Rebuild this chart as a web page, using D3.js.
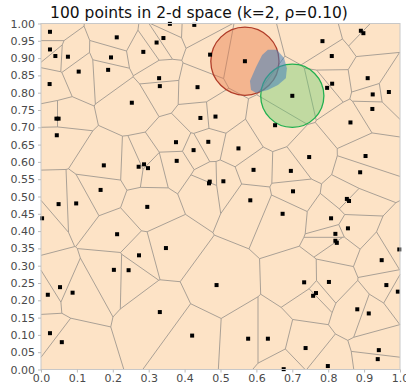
<!DOCTYPE html>
<html><head><meta charset="utf-8">
<script src="https://cdn.jsdelivr.net/npm/d3@7"></script>
<style>
html,body{margin:0;padding:0;background:#fff;}
svg{display:block;}
text{font-family:"DejaVu Sans",sans-serif;}
</style></head>
<body>
<svg id="chart" width="406" height="389"></svg>
<script>
const title = "100 points in 2-d space (k=2, \u03c1=0.10)";
const xs = [0.025,0.211,0.322,0.341,0.359,0.427,0.784,0.891,0.898,0.025,0.040,0.075,0.105,0.024,0.285,0.195,0.187,0.253,0.043,0.049,0.044,0.471,0.568,0.329,0.331,0.436,0.444,0.486,0.376,0.425,0.466,0.550,0.810,0.811,0.797,0.700,0.910,0.969,0.924,0.923,0.862,0.652,0.747,0.904,0.175,0.272,0.287,0.298,0.378,0.470,0.468,0.166,0.049,0.098,0.003,0.296,0.212,0.348,0.273,0.203,0.244,0.053,0.019,0.088,0.489,0.331,0.025,0.058,0.421,0.592,0.696,0.889,0.508,0.583,0.702,0.852,0.858,0.673,0.808,0.855,0.820,0.820,0.824,0.998,0.949,0.733,0.802,0.766,0.758,0.962,0.994,0.881,0.913,0.577,0.632,0.737,0.941,0.938,0.799,0.676];
const ys = [0.976,0.960,0.945,0.958,0.999,0.996,0.949,0.979,0.972,0.925,0.906,0.904,0.861,0.825,0.918,0.902,0.866,0.771,0.725,0.725,0.677,0.910,0.891,0.842,0.819,0.816,0.727,0.731,0.657,0.634,0.658,0.639,0.906,0.826,0.814,0.791,0.842,0.802,0.795,0.753,0.714,0.706,0.614,0.617,0.590,0.586,0.593,0.582,0.603,0.543,0.538,0.519,0.478,0.480,0.437,0.470,0.391,0.351,0.330,0.288,0.287,0.238,0.216,0.222,0.244,0.166,0.105,0.079,0.098,0.577,0.574,0.570,0.544,0.489,0.515,0.493,0.487,0.450,0.437,0.408,0.392,0.372,0.366,0.347,0.316,0.252,0.253,0.221,0.213,0.244,0.225,0.174,0.162,0.089,0.089,0.062,0.056,0.030,0.010,0.001];
// query circles: centres (data units) and radii (x-data units)
const circleX = [0.568, 0.700];
const circleY = [0.891, 0.791];
const circleR = [0.095, 0.088];
const circleFill = ["rgba(232,125,75,0.45)", "rgba(110,205,110,0.42)"];
const circleStroke = ["#b03c28", "#22b050"];
// shaded overlap region (data units)
const regionX = [0.616,0.632,0.657,0.677,0.685,0.682,0.660,0.632,0.599,0.585,0.582,0.599];
const regionY = [0.909,0.924,0.924,0.900,0.871,0.842,0.822,0.808,0.799,0.808,0.834,0.874];
const xTicks = d3.range(0, 11).map(i => i / 10);
const yTicks = d3.range(0, 21).map(i => i / 20);

const svg = d3.select("#chart");
const L = 41, R = 400, T = 23.5, B = 369.5;
const x = d3.scaleLinear().domain([0, 1]).range([L, R]);
const y = d3.scaleLinear().domain([0, 1]).range([B, T]);

svg.append("text").attr("x", 199).attr("y", 18).attr("text-anchor", "middle")
  .attr("font-size", 15.5).attr("fill", "#111").text(title);

svg.append("rect").attr("x", L).attr("y", T).attr("width", R - L).attr("height", B - T)
  .attr("fill", "#fde3c6");

const pts = xs.map((d, i) => [x(d), y(ys[i])]);
const vor = d3.Delaunay.from(pts).voronoi([L, T, R, B]);
svg.append("path").attr("d", vor.render()).attr("fill", "none")
  .attr("stroke", "#a09890").attr("stroke-width", 0.9);

const cg = svg.append("g");
circleX.forEach((cx, i) => {
  cg.append("circle").attr("cx", x(cx)).attr("cy", y(circleY[i]))
    .attr("r", x(circleR[i]) - x(0))
    .attr("fill", circleFill[i]).attr("stroke", circleStroke[i]).attr("stroke-width", 1.3);
});
svg.append("path")
  .attr("d", d3.line().curve(d3.curveLinearClosed)(regionX.map((d, i) => [x(d), y(regionY[i])])))
  .attr("fill", "rgba(70,130,190,0.55)").attr("stroke", "none");

svg.append("g").selectAll("rect").data(pts).join("rect")
  .attr("x", d => d[0] - 2).attr("y", d => d[1] - 2).attr("width", 4).attr("height", 4)
  .attr("fill", "#000");

svg.append("rect").attr("x", L).attr("y", T).attr("width", R - L).attr("height", B - T)
  .attr("fill", "none").attr("stroke", "#c8c8c8").attr("stroke-width", 1);

const xa = svg.append("g").attr("transform", `translate(0,${B})`)
  .call(d3.axisBottom(x).tickValues(xTicks).tickFormat(d3.format(".1f")).tickSize(3).tickPadding(2));
const ya = svg.append("g").attr("transform", `translate(${L},0)`)
  .call(d3.axisLeft(y).tickValues(yTicks).tickFormat(d3.format(".2f")).tickSize(3).tickPadding(3));
[xa, ya].forEach(a => {
  a.select(".domain").remove();
  a.selectAll("line").attr("stroke", "#bbb");
  a.selectAll("text").attr("font-size", 11).attr("fill", "#4a4a4a")
    .attr("font-family", '"DejaVu Sans",sans-serif');
});
</script>
</body></html>
